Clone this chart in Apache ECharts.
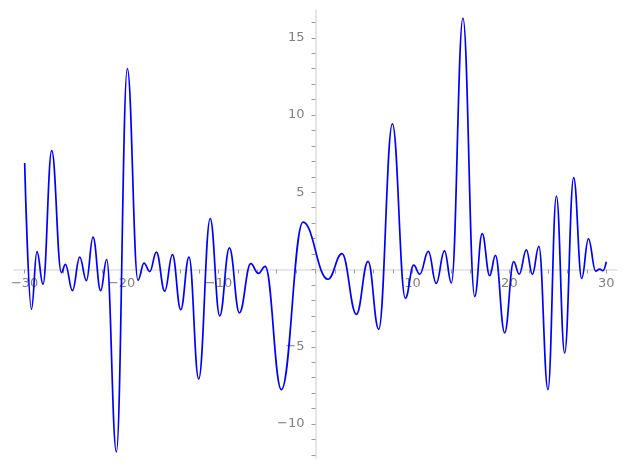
<!DOCTYPE html>
<html><head><meta charset="utf-8">
<script src="https://cdn.jsdelivr.net/npm/echarts@6/dist/echarts.min.js"></script>
<style>html,body{margin:0;padding:0;background:#fff}#c{width:627px;height:470px}</style>
</head><body><div id="c"></div>
<script>
// local extrema of the curve
const curveX = [-30.0, -29.30, -28.73, -28.11, -27.21, -26.21, -25.80, -25.07, -24.32, -23.63,
  -22.95, -22.16, -21.54, -20.54, -19.41, -18.31, -17.69, -17.10, -16.41, -15.55,
  -14.76, -13.90, -13.05, -12.05, -10.86, -9.88, -8.88, -7.85, -6.68, -5.89,
  -5.19, -3.52, -1.29, 1.29, 2.73, 4.22, 5.42, 6.52, 7.93, 9.27,
  10.13, 10.75, 11.64, 12.45, 13.30, 14.02, 15.21, 16.42, 17.19, 17.97,
  18.56, 19.51, 20.44, 21.01, 21.75, 22.37, 23.04, 23.98, 24.85, 25.70,
  26.63, 27.46, 28.15, 28.90, 29.31, 29.65, 30.0];
const curveY = [6.9, -2.57, 1.16, -0.95, 7.7, -0.2, 0.34, -1.37, 0.8, -0.72,
  2.1, -1.37, 0.65, -11.8, 13.0, -0.7, 0.42, -0.13, 1.13, -1.4,
  0.97, -2.6, 0.8, -7.08, 3.3, -3.0, 1.4, -2.8, 0.38, -0.25,
  0.2, -7.78, 3.07, -0.63, 1.03, -2.9, 0.53, -3.87, 9.43, -1.86,
  0.28, -0.3, 1.17, -0.9, 1.21, -0.86, 16.27, -1.75, 2.32, -0.4,
  0.91, -4.1, 0.51, -0.3, 1.27, -0.32, 1.5, -7.78, 4.76, -5.4,
  5.95, -0.58, 1.99, -0.1, 0.03, -0.08, 0.5];
const xRange = [-31.1, 31.1];
const yRange = [-12.2, 16.8];
const xMajor = [-30, 30, 10];   // min, max, step of labelled ticks
const xMinorStep = 2;
const yTicks = [-12, 16, 1];    // min, max, step of tick marks
const yLabelStep = 5;

const W = 627, H = 470;
const PL = 14, PR = 617, PT = 10, PB = 458;
const px = x => PL + (x - xRange[0]) / (xRange[1] - xRange[0]) * (PR - PL);
const py = y => PT + (yRange[1] - y) / (yRange[1] - yRange[0]) * (PB - PT);
const fmt = v => String(v).replace('-', '\u2212');
const labelStyle = {fontSize: 13, color: '#808080', fontFamily: 'DejaVu Sans'};
const tickStyle = {color: '#9a9a9a', width: 1};

const chart = echarts.init(document.getElementById('c'), null, {renderer: 'canvas'});
chart.setOption({
  animation: false,
  backgroundColor: '#ffffff',
  grid: [
    {left: PL, right: W - PR, top: PT, bottom: H - PB},
    {left: px(xMajor[0]), right: W - px(xMajor[1]), top: 100, bottom: H - py(0)},
    {left: px(0), right: 10, top: py(yTicks[1]), bottom: H - py(yTicks[0])}
  ],
  xAxis: [
    {gridIndex: 0, type: 'value', min: xRange[0], max: xRange[1],
     axisLine: {show: true, onZero: true, lineStyle: {color: '#e0e0e0', width: 1.6}},
     axisTick: {show: false}, axisLabel: {show: false}, splitLine: {show: false}},
    {gridIndex: 1, type: 'value', min: xMajor[0], max: xMajor[1], interval: xMajor[2], position: 'bottom',
     axisLine: {show: false, onZero: false},
     axisTick: {show: true, length: 4, lineStyle: tickStyle},
     minorTick: {show: true, splitNumber: xMajor[2] / xMinorStep, length: 4, lineStyle: tickStyle},
     axisLabel: Object.assign({margin: 8, showMinLabel: true, showMaxLabel: true,
       formatter: v => v === 0 ? '' : fmt(v)}, labelStyle),
     splitLine: {show: false}, minorSplitLine: {show: false}},
    {gridIndex: 2, type: 'value', show: false, min: 0, max: 1}
  ],
  yAxis: [
    {gridIndex: 0, type: 'value', min: yRange[0], max: yRange[1],
     axisLine: {show: true, onZero: true, lineStyle: {color: '#e0e0e0', width: 1.6}},
     axisTick: {show: false}, axisLabel: {show: false}, splitLine: {show: false}},
    {gridIndex: 1, type: 'value', show: false, min: 0, max: 1},
    {gridIndex: 2, type: 'value', min: yTicks[0], max: yTicks[1], interval: yTicks[2], position: 'left',
     axisLine: {show: false, onZero: false},
     axisTick: {show: true, length: 4, lineStyle: tickStyle},
     axisLabel: Object.assign({margin: 11, showMinLabel: true, showMaxLabel: true,
       formatter: v => (v !== 0 && v % yLabelStep === 0) ? fmt(v) : ''}, labelStyle),
     splitLine: {show: false}}
  ],
  series: [{
    type: 'line', xAxisIndex: 0, yAxisIndex: 0,
    data: curveX.map((x, i) => [x, curveY[i]]),
    showSymbol: false, smooth: 0.42, smoothMonotone: 'x',
    lineStyle: {color: '#0000ff', width: 1.7}, z: 10
  }]
});
</script></body></html>
